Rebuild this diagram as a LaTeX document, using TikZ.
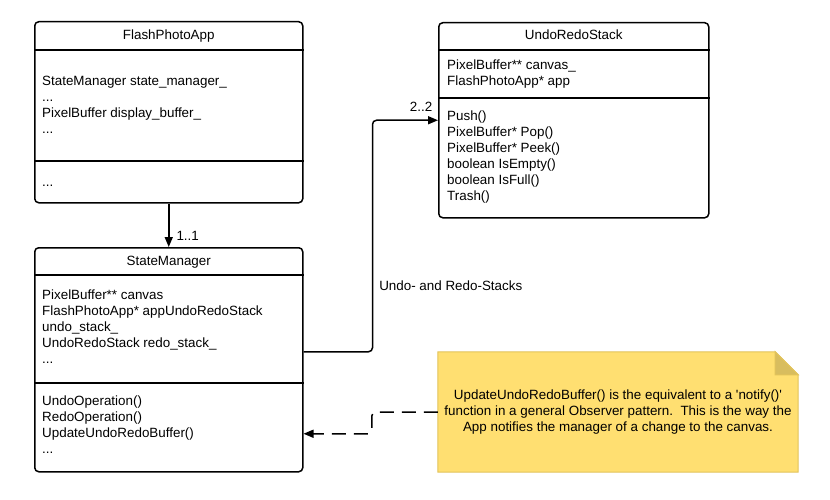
\documentclass[tikz,border=0pt]{standalone}
\usepackage{fontspec}
\newfontfamily\umlfont{Liberation Sans}
\usetikzlibrary{arrows.meta,backgrounds}

\definecolor{notefill}{HTML}{FFDF71}
\definecolor{noteline}{HTML}{E2C35A}
\definecolor{notefold}{HTML}{D8BD5E}

\begin{document}
\begin{tikzpicture}
  [x=1pt, y=-1pt,
   every node/.style={font=\umlfont\fontsize{13.4}{16}\selectfont, inner sep=0pt},
   classbox/.style={draw, line width=1.5pt, rounded corners=4pt, anchor=north west},
   divider/.style={line width=1.2pt},
   members/.style={align=left, anchor=north west},
   assoc/.style={line width=1.5pt, -{Triangle[length=10pt,width=8pt]}},
   dependency/.style={assoc, dash pattern=on 14pt off 8pt, rounded corners=4pt},
   notetext/.style={align=center, minimum width=360pt, minimum height=120pt,
     font=\umlfont\fontsize{13.4}{15.8}\selectfont}]

  \useasboundingbox (0,0) rectangle (830,500);

  \node[classbox, minimum width=268pt, minimum height=181pt] (app) at (34,21) {};
  \draw[divider] (app.west |- 0,50) -- (app.east |- 0,50);
  \draw[divider] (app.west |- 0,161) -- (app.east |- 0,161);
  \node[anchor=base] (apptitle) at (app.north |- 0,40) {FlashPhotoApp};
  \node[members] (appattrs) at (42,76)
    {StateManager state\_manager\_\\...\\PixelBuffer display\_buffer\_\\...};
  \node[anchor=base west] (appops) at (42,186) {...};

  \node[classbox, minimum width=268pt, minimum height=224pt] (sm) at (34,247) {};
  \draw[divider] (sm.west |- 0,275) -- (sm.east |- 0,275);
  \draw[divider, line width=2.2pt] (sm.west |- 0,383) -- (sm.east |- 0,383);
  \node[anchor=base] (smtitle) at (sm.north |- 0,265.5) {StateManager};
  \node[members] (smattrs) at (42,290)
    {PixelBuffer** canvas\\FlashPhotoApp* appUndoRedoStack\\undo\_stack\_\\UndoRedoStack redo\_stack\_\\...};
  \node[members] (smops) at (42,396)
    {UndoOperation()\\RedoOperation()\\UpdateUndoRedoBuffer()\\...};

  \node[classbox, minimum width=270pt, minimum height=195pt] (urs) at (438,22) {};
  \draw[divider] (urs.west |- 0,50) -- (urs.east |- 0,50);
  \draw[divider] (urs.west |- 0,98) -- (urs.east |- 0,98);
  \node[anchor=base] (urstitle) at (urs.north |- 0,40) {UndoRedoStack};
  \node[members] (ursattrs) at (447,60)
    {PixelBuffer** canvas\_\\FlashPhotoApp* app};
  \node[members] (ursops) at (447,111)
    {Push()\\PixelBuffer* Pop()\\PixelBuffer* Peek()\\boolean IsEmpty()\\boolean IsFull()\\Trash()};

  \node[notetext] (note) at (618,412)
    {UpdateUndoRedoBuffer() is the equivalent to a 'notify()'\\function in a general Observer pattern.\ \ This is the way the\\App notifies the manager of a change to the canvas.};
  \begin{scope}[on background layer]
    \filldraw[fill=notefill, draw=noteline, line width=1pt]
      (note.south west) -- (note.north west) -- ([xshift=-23pt]note.north east)
      -- ([yshift=-23pt]note.north east) -- (note.south east) -- cycle;
    \filldraw[fill=notefold, draw=noteline, line width=1pt]
      ([xshift=-23pt]note.north east) -- ([xshift=-23pt,yshift=-23pt]note.north east)
      -- ([yshift=-23pt]note.north east) -- cycle;
  \end{scope}

  \draw[assoc] (app.south) -- node[pos=0.74, right=7pt] {1..1} (sm.north);
  \draw[assoc, rounded corners=4pt] ([yshift=8pt]sm.east) -- ++(69,0)
    |- node[pos=0.143, right=6pt] {Undo- and Redo-Stacks}
       node[at end, anchor=south east, xshift=-5pt, yshift=8pt] {2..2} (urs.west);
  \draw[dependency] (note.west) -- ++(-66,0) |- ([yshift=-74pt]sm.east);
\end{tikzpicture}
\end{document}
